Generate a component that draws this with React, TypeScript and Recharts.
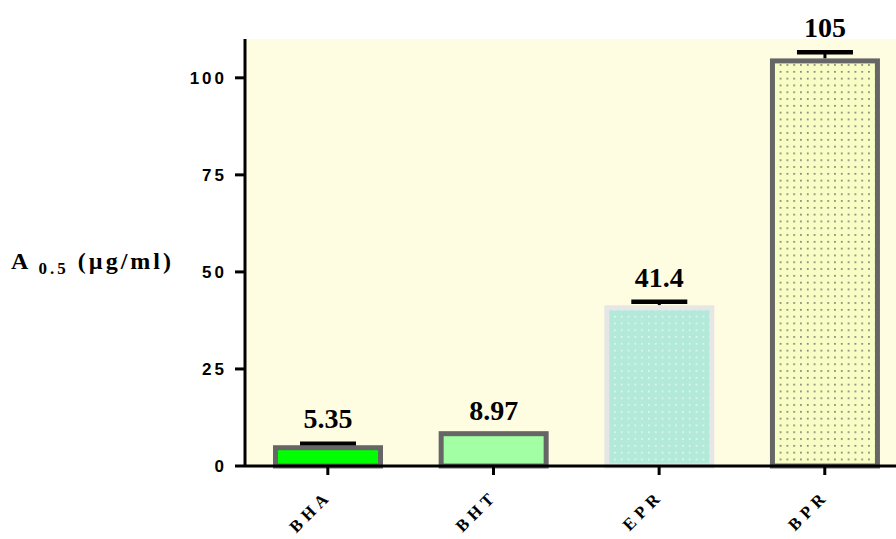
import React from 'react';
import { BarChart, Bar, XAxis, YAxis, LabelList } from 'recharts';

const categories = ['BHA', 'BHT', 'EPR', 'BPR'];
const values = [5.35, 8.97, 41.4, 105];
const sds = [0.4, 0, 0.9, 1.6];
const labels = ['5.35', '8.97', '41.4', '105'];
const yTicks = [0, 25, 50, 75, 100];

const barStyles = [
  { fill: '#00ff00', stroke: '#666666', dot: null },
  { fill: '#a3ffa3', stroke: '#666666', dot: null },
  { fill: '#b3e9d8', stroke: '#e6e6e6', dot: '#e8f8f2' },
  { fill: '#f7fdc4', stroke: '#666666', dot: '#6f6f66' },
];

const data = categories.map((c, i) => ({ name: c, value: values[i], sd: sds[i], label: labels[i] }));

const SERIF = '"Liberation Serif", "Times New Roman", serif';
const SANS = '"Liberation Sans", Arial, sans-serif';
const SW = 5;
const CAP_W = 56;
const CAP_T = 4.5;

const BarShape = (props: any) => {
  const { x, y, width, height, index, payload } = props;
  const st = barStyles[index];
  const v = payload.value;
  const ppu = v ? height / v : 0;
  const capY = y - payload.sd * ppu;
  const cx = x + width / 2;
  const pid = `dots-${index}`;
  return (
    <g>
      {st.dot && (
        <defs>
          <pattern id={pid} x={x} y={0} width={6.8} height={6.8} patternUnits="userSpaceOnUse">
            <rect width={6.8} height={6.8} fill={st.fill} />
            <rect x={3} y={3} width={1.6} height={1.6} fill={st.dot} />
          </pattern>
        </defs>
      )}
      {payload.sd > 0 && (
        <g>
          <line x1={cx} x2={cx} y1={y} y2={capY} stroke="#000" strokeWidth={3} />
          <line x1={cx - CAP_W / 2} x2={cx + CAP_W / 2} y1={capY} y2={capY} stroke="#000" strokeWidth={CAP_T} />
        </g>
      )}
      <rect
        x={x + SW / 2}
        y={y + SW / 2}
        width={Math.max(0, width - SW)}
        height={Math.max(0, height - SW / 2)}
        fill={st.dot ? `url(#${pid})` : st.fill}
        stroke={st.stroke}
        strokeWidth={SW}
      />
    </g>
  );
};

const ValueLabel = (props: any) => {
  const { x, y, width, height, index } = props;
  const v = values[index];
  const sd = sds[index];
  const ppu = v ? height / v : 0;
  const top = sd > 0 ? y - sd * ppu - CAP_T / 2 - 13 : y - 11;
  return (
    <text x={x + width / 2} y={top} textAnchor="middle" fontFamily={SERIF} fontWeight={700} fontSize={28} fill="#000">
      {labels[index]}
    </text>
  );
};

const XTick = (props: any) => {
  const { x, y, payload } = props;
  const ax = x + 5;
  const ay = y + 20;
  return (
    <text
      x={ax}
      y={ay}
      textAnchor="end"
      transform={`rotate(-45, ${ax}, ${ay})`}
      fontFamily={SERIF}
      fontWeight={700}
      fontSize={17}
      letterSpacing={5}
      fill="#000"
    >
      {payload.value}
    </text>
  );
};

const YTick = (props: any) => {
  const { x, y, payload } = props;
  return (
    <text x={x} y={y} dy="0.36em" textAnchor="end" fontFamily={SANS} fontWeight={700} fontSize={17} letterSpacing={3} fill="#000">
      {payload.value}
    </text>
  );
};

const YLabel = (props: any) => {
  const vb = props.viewBox || { x: 0, y: 0, width: 0, height: 0 };
  const bx = vb.x + 11;
  const by = vb.y + vb.height / 2 + 16;
  return (
    <text x={bx} y={by} fontFamily={SERIF} fontWeight={700} fontSize={24} letterSpacing={3} fill="#000">
      A
      <tspan fontSize={17} dy={5} letterSpacing={3}> 0.5</tspan>
      <tspan fontSize={24} dy={-5} letterSpacing={3}> (µg/ml)</tspan>
    </text>
  );
};

export default function App() {
  return (
    <div style={{ position: 'fixed', left: 0, top: 0, width: 896, height: 539, overflow: 'hidden', background: '#fff' }}>
      <BarChart width={920} height={539} data={data} margin={{ top: 39, right: 12.4, bottom: 0, left: 0 }}>
        <rect x={245} y={39} width={663} height={427} fill="#fffde1" />
        <XAxis
          dataKey="name"
          height={73}
          interval={0}
          tickSize={9}
          axisLine={{ stroke: '#000', strokeWidth: 3 }}
          tickLine={{ stroke: '#000', strokeWidth: 3 }}
          tick={<XTick />}
        />
        <YAxis
          width={245}
          domain={[0, 110]}
          ticks={yTicks}
          tickSize={10}
          tickMargin={8}
          axisLine={{ stroke: '#000', strokeWidth: 3 }}
          tickLine={{ stroke: '#000', strokeWidth: 3 }}
          tick={<YTick />}
          label={{ content: (p: any) => <YLabel {...p} /> }}
        />
        <Bar dataKey="value" barSize={110} shape={<BarShape />} isAnimationActive={false}>
          <LabelList dataKey="value" content={(p: any) => <ValueLabel {...p} />} />
        </Bar>
      </BarChart>
    </div>
  );
}
